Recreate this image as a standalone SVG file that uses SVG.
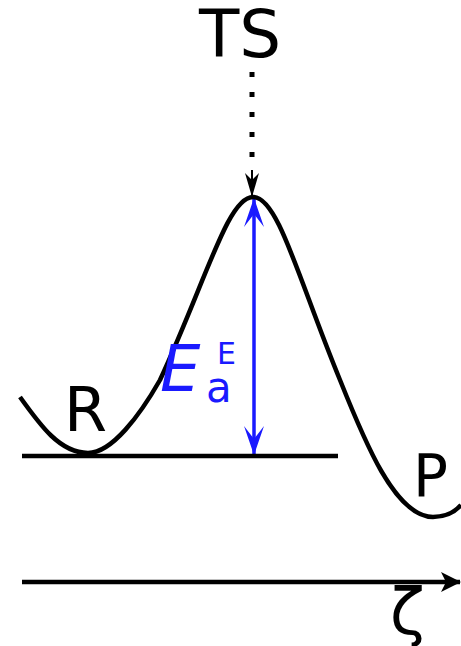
<svg xmlns="http://www.w3.org/2000/svg" width="461" height="646" viewBox="0 0 461 646">
<style>
.lbl{font-family:"DejaVu Sans",sans-serif;fill:#000}
.blue{fill:#1a1aff}
.bk{stroke:#000;fill:none;stroke-width:4.5}
</style>
<defs>
<marker id="ba" markerUnits="userSpaceOnUse" markerWidth="30" markerHeight="20" viewBox="0 0 30 20" refX="29" refY="10" orient="auto-start-reverse">
<path d="M30,10 L1,0 L14,10 L1,20 Z" fill="#1a1aff"/>
</marker>
<marker id="ka" markerUnits="userSpaceOnUse" markerWidth="24" markerHeight="14" viewBox="0 0 24 14" refX="23" refY="7" orient="auto">
<path d="M24,7 L0,0 L7,7 L0,14 Z" fill="#000"/>
</marker>
<marker id="xa" markerUnits="userSpaceOnUse" markerWidth="20" markerHeight="22" viewBox="0 0 20 22" refX="19" refY="11" orient="auto">
<path d="M20,11 L0,1 L5,11 L0,21 Z" fill="#000"/>
</marker>
</defs>
<g id="connectors">
<line x1="252" y1="72" x2="252" y2="172" stroke="#000" stroke-width="5" stroke-dasharray="5 15"/>
<line x1="252" y1="170" x2="252" y2="196" stroke="#000" stroke-width="2" marker-end="url(#ka)"/>
<line id="ea-arrow" x1="254" y1="199" x2="254" y2="454" stroke="#1a1aff" stroke-width="3.5" marker-start="url(#ba)" marker-end="url(#ba)"/>
<line id="axis" x1="22" y1="582" x2="460" y2="582" stroke="#000" stroke-width="4.5" marker-end="url(#xa)"/>
</g>
<g id="curve">
<path class="bk" d="M20,397 C40,425 60,453 88,453 C112,453 140,415 160,380 C207,278 228,197 253,197 C278,197 298,278 340,380 C364,440 395,517 433,517 C447,517 455,512 461,505"/>
</g>
<g id="baseline">
<line x1="22" y1="456" x2="338" y2="456" stroke="#000" stroke-width="4.5"/>
</g>
<g id="TS"><text class="lbl" x="240" y="57" font-size="66" text-anchor="middle">TS</text></g>
<g id="R"><text class="lbl" x="64" y="431" font-size="62">R</text></g>
<g id="P"><text class="lbl" x="413" y="496" font-size="58">P</text></g>
<g id="Ea">
<text class="lbl blue" x="160" y="391" font-size="64" font-style="italic">E</text>
<text class="lbl blue" x="206" y="402" font-size="42">a</text>
<text class="lbl blue" x="217" y="364" font-size="30">E</text>
</g>
<g id="zeta"><text class="lbl" x="390" y="634" font-size="64">ζ</text></g>
</svg>
